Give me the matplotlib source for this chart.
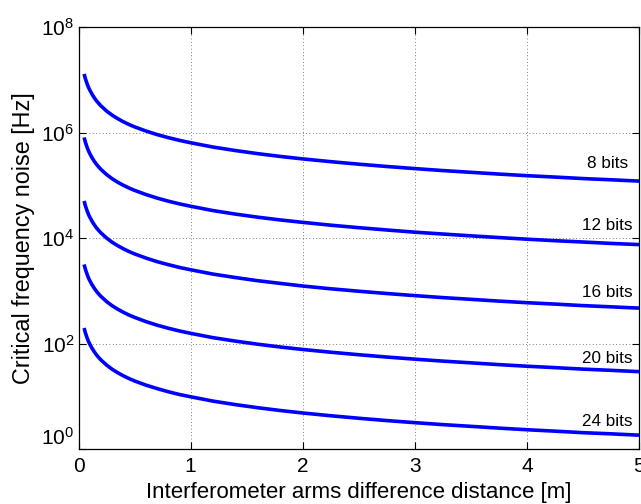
import matplotlib
matplotlib.use("Agg")
import matplotlib.pyplot as plt
from matplotlib.ticker import FixedLocator, FixedFormatter, NullLocator

plt.rcParams['font.family'] = ['Liberation Sans', 'DejaVu Sans']
plt.rcParams['mathtext.default'] = 'regular'

# distance [m]
x = [0.05, 0.06, 0.07, 0.08, 0.09, 0.10, 0.12, 0.14, 0.16, 0.18, 0.20, 0.25,
     0.30, 0.35, 0.40, 0.45, 0.50, 0.60, 0.70, 0.80, 0.90, 1.0, 1.2, 1.4, 1.6,
     1.8, 2.0, 2.25, 2.5, 2.75, 3.0, 3.25, 3.5, 3.75, 4.0, 4.25, 4.5, 4.75, 5.0]

bits_8 = [1.29e7, 1.07e7, 9.2e6, 8.0e6, 7.1e6, 6.4e6, 5.35e6, 4.58e6, 4.0e6,
          3.56e6, 3.2e6, 2.56e6, 2.13e6, 1.83e6, 1.6e6, 1.42e6, 1.28e6, 1.07e6,
          9.15e5, 8.0e5, 7.1e5, 6.4e5, 5.3e5, 4.55e5, 3.97e5, 3.52e5, 3.16e5,
          2.8e5, 2.51e5, 2.27e5, 2.07e5, 1.9e5, 1.76e5, 1.63e5, 1.52e5, 1.43e5,
          1.34e5, 1.27e5, 1.2e5]
bits_12 = [8.06e5, 6.69e5, 5.75e5, 5.0e5, 4.44e5, 4.0e5, 3.34e5, 2.86e5, 2.5e5,
           2.23e5, 2.0e5, 1.6e5, 1.33e5, 1.14e5, 1.0e5, 8.88e4, 8.0e4, 6.69e4,
           5.72e4, 5.0e4, 4.44e4, 4.0e4, 3.31e4, 2.84e4, 2.48e4, 2.2e4, 1.98e4,
           1.75e4, 1.57e4, 1.42e4, 1.29e4, 1.19e4, 1.1e4, 1.02e4, 9.5e3, 8.9e3,
           8.4e3, 7.9e3, 7.5e3]
bits_16 = [5.04e4, 4.18e4, 3.59e4, 3.13e4, 2.77e4, 2.5e4, 2.09e4, 1.79e4,
           1.56e4, 1.39e4, 1.25e4, 1.0e4, 8.32e3, 7.15e3, 6.25e3, 5.55e3,
           5.0e3, 4.18e3, 3.57e3, 3.13e3, 2.77e3, 2.5e3, 2.07e3, 1.78e3,
           1.55e3, 1.38e3, 1.23e3, 1.09e3, 980, 887, 809, 742, 688, 637, 594,
           559, 523, 496, 469]
bits_20 = [3.15e3, 2.61e3, 2.25e3, 1.95e3, 1.73e3, 1.56e3, 1.31e3, 1.12e3, 977,
           869, 781, 625, 520, 447, 391, 347, 313, 261, 223, 195, 173, 156, 129,
           111, 96.9, 85.9, 77.1, 68.4, 61.3, 55.4, 50.5, 46.4, 43.0, 39.8,
           37.1, 34.9, 32.7, 31.0, 29.3]
bits_24 = [197, 163, 140, 122, 108, 97.7, 81.6, 69.9, 61.0, 54.3, 48.8, 39.1,
           32.5, 27.9, 24.4, 21.7, 19.5, 16.3, 14.0, 12.2, 10.8, 9.77, 8.09,
           6.94, 6.06, 5.37, 4.82, 4.27, 3.83, 3.46, 3.16, 2.90, 2.69, 2.49,
           2.32, 2.18, 2.04, 1.94, 1.83]

series = [bits_8, bits_12, bits_16, bits_20, bits_24]
labels = ["8 bits", "12 bits", "16 bits", "20 bits", "24 bits"]
label_x = [4.72, 4.72, 4.72, 4.72, 4.72]
label_y = [2.6e5, 1.76e4, 934, 52.4, 3.3]

xticks = [0, 1, 2, 3, 4, 5]
yticks = [1e0, 1e2, 1e4, 1e6, 1e8]
yticklabels = ["$10^{0}$", "$10^{2}$", "$10^{4}$", "$10^{6}$", "$10^{8}$"]

fig = plt.figure(figsize=(6.41, 5.04), dpi=100)
ax = fig.add_axes([0.1225, 0.1091, 0.8744, 0.8373])

for ys in series:
    ax.plot(x, ys, color=(0, 0, 1), lw=2.6, solid_capstyle='butt',
            solid_joinstyle='round')

for lab, lx, ly in zip(labels, label_x, label_y):
    ax.text(lx, ly, lab, ha='center', va='center', fontsize=12.3)

ax.set_yscale('log')
ax.set_xlim(0, 5)
ax.set_ylim(1e0, 1e8)
ax.xaxis.set_major_locator(FixedLocator(xticks))
ax.xaxis.set_major_formatter(FixedFormatter([str(t) for t in xticks]))
ax.yaxis.set_major_locator(FixedLocator(yticks))
ax.yaxis.set_major_formatter(FixedFormatter(yticklabels))
ax.yaxis.set_minor_locator(NullLocator())
ax.xaxis.set_minor_locator(NullLocator())

ax.tick_params(direction='in', top=True, right=True, length=5, width=0.8,
               labelsize=15)
ax.tick_params(axis='x', pad=6)
ax.tick_params(axis='y', pad=3)
ax.grid(True, linestyle=(0, (1, 3)), color='#555555', lw=0.6)
for s in ax.spines.values():
    s.set_linewidth(0.9)

ax.set_xlabel("Interferometer arms difference distance [m]", fontsize=16)
ax.set_ylabel("Critical frequency noise [Hz]", fontsize=16.8)
ax.xaxis.label.set_va('center')
ax.yaxis.label.set_va('center')
ax.xaxis.set_label_coords(0.5, -0.102)
ax.yaxis.set_label_coords(-0.099, 0.5)

fig.canvas.draw()
ax.get_yticklabels()[0].set_va('bottom')

fig.savefig("out.png", dpi=100)
